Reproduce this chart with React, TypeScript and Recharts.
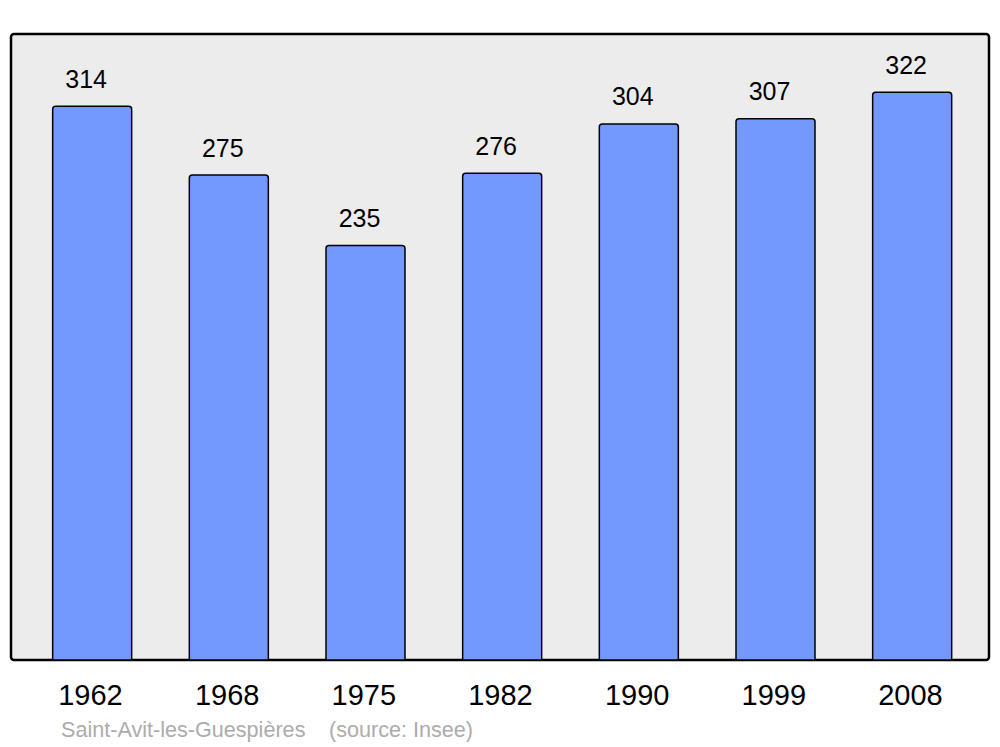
import React from 'react';
import { BarChart, Bar, XAxis, YAxis, LabelList, usePlotArea } from 'recharts';

const years = ['1962', '1968', '1975', '1982', '1990', '1999', '2008'];
const population = [314, 275, 235, 276, 304, 307, 322];
const commune = 'Saint-Avit-les-Guespières';
const sourceText = '(source: Insee)';

const data = years.map((y, i) => ({ year: y, pop: population[i] }));

const FONT = '"Liberation Sans", Arial, sans-serif';

function Frame() {
  const area = usePlotArea();
  if (!area) return null;
  return (
    <g>
      <rect x={area.x} y={area.y} width={area.width} height={area.height} rx={3} ry={3}
        fill="#ececec" stroke="#000" strokeWidth={2.5} />
    </g>
  );
}

function Source() {
  const area = usePlotArea();
  if (!area) return null;
  return (
    <g fontFamily={FONT} fontSize={21.6} fill="#acacac">
      <text x={area.x + 50} y={area.y + area.height + 77}>{commune}</text>
      <text x={area.x + 318} y={area.y + area.height + 77}>{sourceText}</text>
    </g>
  );
}

export default function App() {
  return (
    <div style={{ position: 'absolute', left: 0, top: 0, width: 1000, height: 747, background: '#fff' }}>
      <BarChart width={1000} height={747} data={data}
        margin={{ top: 34, right: 11, left: 11, bottom: 0 }}>
        <Frame />
        <XAxis dataKey="year" height={87} axisLine={false} tickLine={false} tickSize={0} tickMargin={24}
          padding={{ left: 12.67, right: 8.67 }}
          tick={{ fill: '#000', fontSize: 29, fontFamily: FONT, dx: -1.5 }} interval={0} />
        <YAxis hide domain={[0, 355]} />
        <Bar dataKey="pop" fill="#7399ff" stroke="#000" strokeWidth={1.5} barSize={79}
          radius={[3, 3, 0, 0]} isAnimationActive={false}>
          <LabelList dataKey="pop" position="top" offset={18.5} dx={-6} fill="#000" fontSize={25} fontFamily={FONT} />
        </Bar>
        <Source />
      </BarChart>
    </div>
  );
}
